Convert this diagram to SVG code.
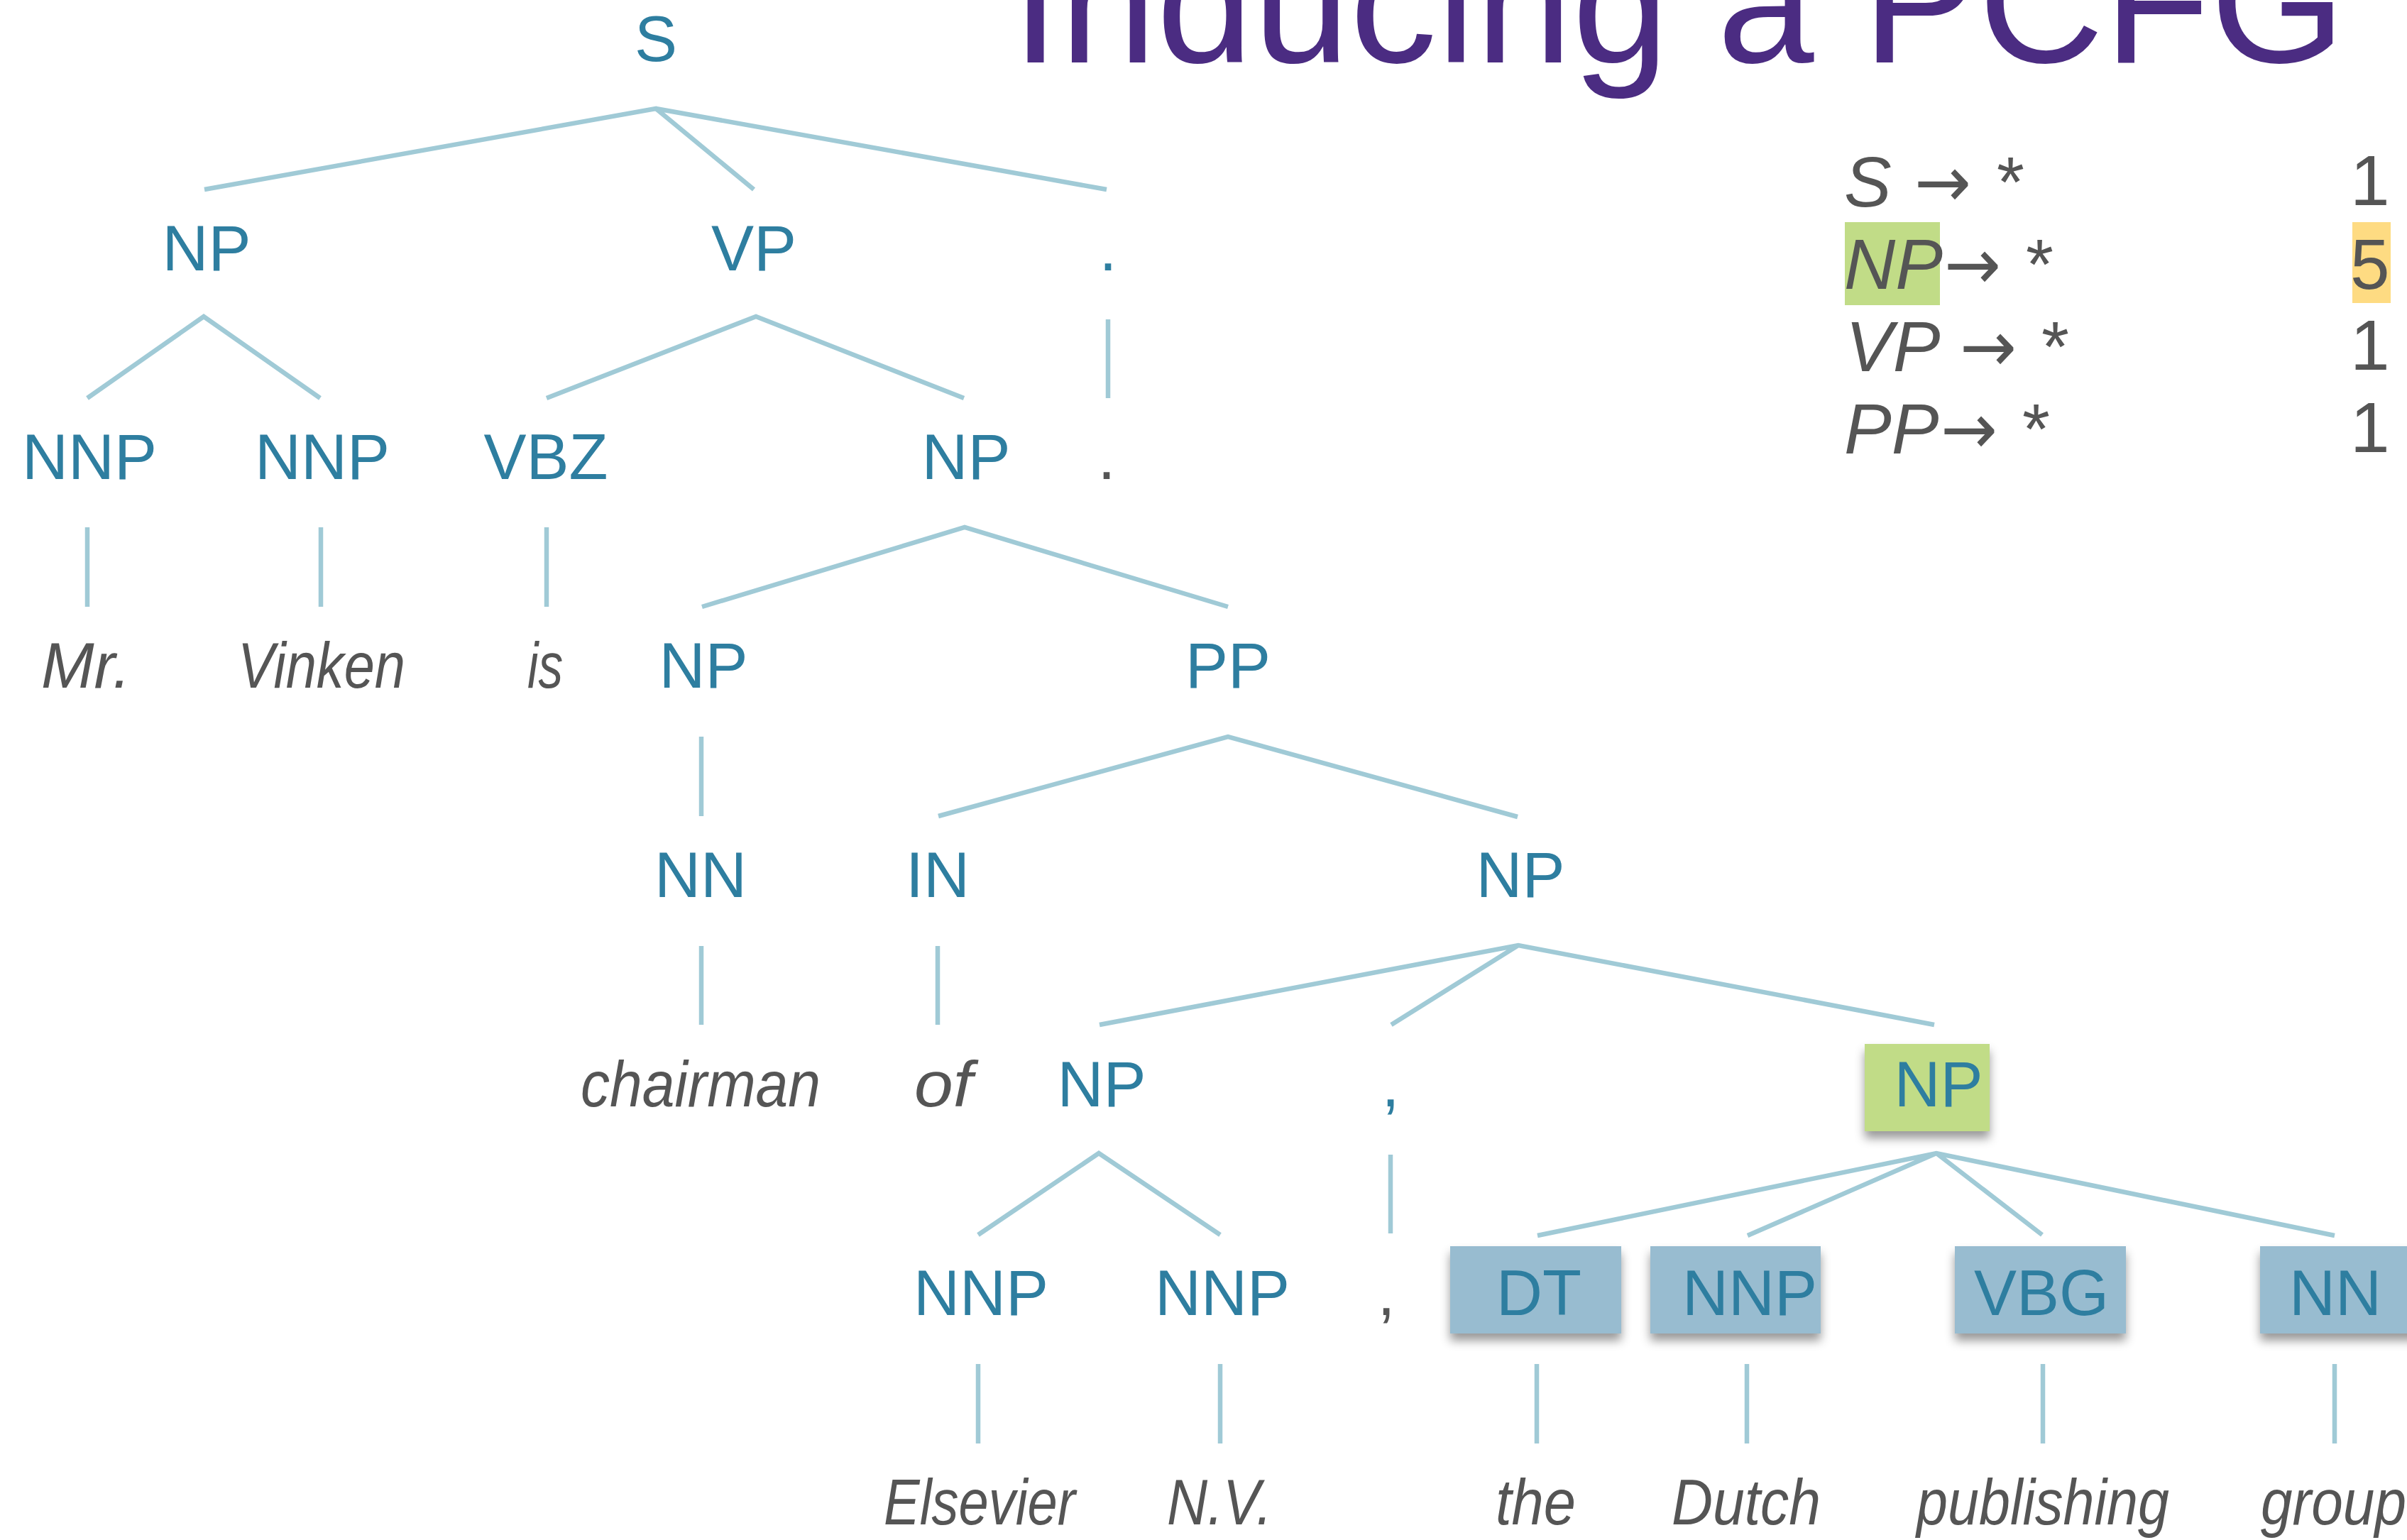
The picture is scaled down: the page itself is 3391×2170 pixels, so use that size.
<svg xmlns="http://www.w3.org/2000/svg" width="3391" height="2170" viewBox="0 0 3391 2170">
  <style>
    .tag { font-family: "Liberation Sans", Arial, sans-serif; font-size: 90px; fill: #2e7ea0; text-anchor: middle; }
    .word { font-family: "Liberation Sans", Arial, sans-serif; font-size: 90px; font-style: italic; fill: #555555; }
    .punct { font-family: "Liberation Sans", Arial, sans-serif; font-size: 90px; fill: #555555; text-anchor: middle; }
    .edge { stroke: #a0cad6; stroke-width: 6.5; fill: none; stroke-linecap: butt; }
    .rule { font-family: "Liberation Sans", Arial, sans-serif; font-size: 100px; fill: #555555; }
    .lhs { font-style: italic; }
    .arrow { font-family: "DejaVu Sans", sans-serif; font-size: 100px; fill: #555555; }
    .title { font-family: "Liberation Sans", Arial, sans-serif; font-size: 245px; fill: #4b2c82; }
    .focus { fill: #c1dc87; }
    .leaf { fill: #98bcd0; }
  </style>
  <defs>
    <filter id="shadow" x="-20%" y="-20%" width="140%" height="160%">
      <feDropShadow dx="0" dy="10" stdDeviation="7" flood-color="#000000" flood-opacity="0.4"/>
    </filter>
  </defs>

  <rect width="3391" height="2170" fill="#ffffff"/>

  <!-- heading, partly above the top edge -->
  <text class="title" x="1425" y="88">Inducing a PCFG</text>

  <!-- rule counts -->
  <g id="rule-table">
    <rect class="focus" x="2599" y="313" width="134" height="117"/>
    <rect x="3314" y="313" width="54" height="114" fill="#fedb82"/>
    <text class="rule lhs" x="2598" y="291">S</text>
    <text class="arrow" x="2697" y="291" textLength="80" lengthAdjust="spacingAndGlyphs">→</text>
    <text class="rule" x="2813" y="291">*</text>
    <text class="rule" x="3311" y="289">1</text>
    <text class="rule lhs" x="2598" y="407">NP</text>
    <text class="arrow" x="2739" y="407" textLength="80" lengthAdjust="spacingAndGlyphs">→</text>
    <text class="rule" x="2854" y="407">*</text>
    <text class="rule" x="3311" y="407">5</text>
    <text class="rule lhs" x="2600" y="523">VP</text>
    <text class="arrow" x="2761" y="523" textLength="80" lengthAdjust="spacingAndGlyphs">→</text>
    <text class="rule" x="2876" y="523">*</text>
    <text class="rule" x="3311" y="521">1</text>
    <text class="rule lhs" x="2598" y="639">PP</text>
    <text class="arrow" x="2734" y="639" textLength="80" lengthAdjust="spacingAndGlyphs">→</text>
    <text class="rule" x="2849" y="639">*</text>
    <text class="rule" x="3311" y="637">1</text>
  </g>

  <!-- tree edges -->
  <g id="connectors">
    <path class="edge" d="M288,267 L924,153 L1062,267 M924,153 L1559,267"/>
    <path class="edge" d="M123,561 L287,446 L451,561"/>
    <path class="edge" d="M770,561 L1065,446 L1358,561"/>
    <path class="edge" d="M1561,450 V561"/>
    <path class="edge" d="M123,743 V855 M452,743 V855 M770,743 V855"/>
    <path class="edge" d="M989,855 L1359,743 L1730,855"/>
    <path class="edge" d="M988,1038 V1150"/>
    <path class="edge" d="M1322,1150 L1730,1038 L2138,1151"/>
    <path class="edge" d="M988,1333 V1444 M1321,1333 V1444"/>
    <path class="edge" d="M1549,1444 L2139,1332 L2725,1444 M2139,1332 L1960,1444"/>
    <path class="edge" d="M1378,1740 L1548,1625 L1719,1740"/>
    <path class="edge" d="M1959,1627 V1738"/>
    <path class="edge" d="M2166,1741 L2728,1625 L3289,1741 M2728,1625 L2462,1741 M2728,1625 L2877,1740"/>
    <path class="edge" d="M1378,1922 V2034 M1719,1922 V2034 M2165,1922 V2034 M2461,1922 V2034 M2878,1922 V2034 M3289,1922 V2034"/>
  </g>

  <!-- nodes -->
  <g id="n-S"><text class="tag" x="924" y="86">S</text></g>

  <g id="n-NP1"><text class="tag" x="291" y="381">NP</text></g>
  <g id="n-VP"><text class="tag" x="1062" y="381">VP</text></g>
  <g id="n-dot-tag"><text class="tag" x="1561" y="381">.</text></g>

  <g id="n-NNP1"><text class="tag" x="126" y="675">NNP</text></g>
  <g id="n-NNP2"><text class="tag" x="454" y="675">NNP</text></g>
  <g id="n-VBZ"><text class="tag" x="769" y="675">VBZ</text></g>
  <g id="n-NP2"><text class="tag" x="1361" y="675">NP</text></g>
  <g id="w-dot"><text class="punct" x="1559" y="675">.</text></g>

  <g id="w-Mr"><text class="word" x="58" y="969" textLength="126" lengthAdjust="spacingAndGlyphs">Mr.</text></g>
  <g id="w-Vinken"><text class="word" x="335" y="969" textLength="236" lengthAdjust="spacingAndGlyphs">Vinken</text></g>
  <g id="w-is"><text class="word" x="743" y="969" textLength="50" lengthAdjust="spacingAndGlyphs">is</text></g>
  <g id="n-NP3"><text class="tag" x="991" y="969">NP</text></g>
  <g id="n-PP"><text class="tag" x="1730" y="969">PP</text></g>

  <g id="n-NN1"><text class="tag" x="987" y="1264">NN</text></g>
  <g id="n-IN"><text class="tag" x="1321" y="1264">IN</text></g>
  <g id="n-NP4"><text class="tag" x="2142" y="1264">NP</text></g>

  <g id="w-chairman"><text class="word" x="818" y="1559" textLength="338" lengthAdjust="spacingAndGlyphs">chairman</text></g>
  <g id="w-of"><text class="word" x="1288" y="1559" textLength="82" lengthAdjust="spacingAndGlyphs">of</text></g>
  <g id="n-NP5"><text class="tag" x="1552" y="1559">NP</text></g>
  <g id="n-comma-tag"><text class="tag" x="1959" y="1559">,</text></g>
  <g id="n-NP6">
    <rect class="focus" x="2627" y="1471" width="176" height="123" filter="url(#shadow)"/>
    <text class="tag" x="2731" y="1559">NP</text>
  </g>

  <g id="n-NNP3"><text class="tag" x="1382" y="1853">NNP</text></g>
  <g id="n-NNP4"><text class="tag" x="1722" y="1853">NNP</text></g>
  <g id="w-comma"><text class="punct" x="1953" y="1853">,</text></g>
  <g id="n-DT">
    <rect class="leaf" x="2043" y="1756" width="241" height="123" filter="url(#shadow)"/>
    <text class="tag" x="2168" y="1853">DT</text>
  </g>
  <g id="n-NNP5">
    <rect class="leaf" x="2325" y="1756" width="240" height="123" filter="url(#shadow)"/>
    <text class="tag" x="2465" y="1853">NNP</text>
  </g>
  <g id="n-VBG">
    <rect class="leaf" x="2754" y="1756" width="241" height="123" filter="url(#shadow)"/>
    <text class="tag" x="2876" y="1853">VBG</text>
  </g>
  <g id="n-NN2">
    <rect class="leaf" x="3184" y="1756" width="241" height="123" filter="url(#shadow)"/>
    <text class="tag" x="3290" y="1853">NN</text>
  </g>

  <g id="w-Elsevier"><text class="word" x="1245" y="2148" textLength="270" lengthAdjust="spacingAndGlyphs">Elsevier</text></g>
  <g id="w-NV"><text class="word" x="1644" y="2148" textLength="148" lengthAdjust="spacingAndGlyphs">N.V.</text></g>
  <g id="w-the"><text class="word" x="2107" y="2148" textLength="113" lengthAdjust="spacingAndGlyphs">the</text></g>
  <g id="w-Dutch"><text class="word" x="2355" y="2148" textLength="210" lengthAdjust="spacingAndGlyphs">Dutch</text></g>
  <g id="w-publishing"><text class="word" x="2700" y="2148" textLength="356" lengthAdjust="spacingAndGlyphs">publishing</text></g>
  <g id="w-group"><text class="word" x="3185" y="2148" textLength="205" lengthAdjust="spacingAndGlyphs">group</text></g>
</svg>
